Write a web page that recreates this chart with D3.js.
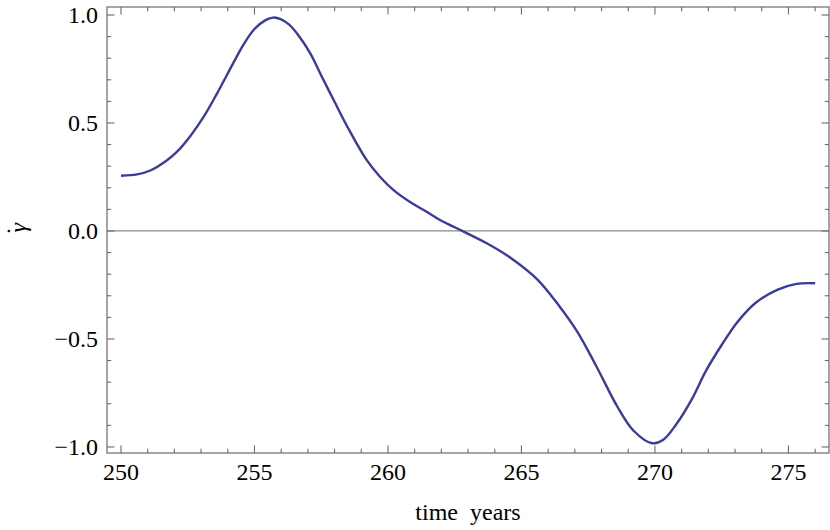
<!DOCTYPE html>
<html lang="en">
<head>
<meta charset="utf-8">
<script src="https://cdn.jsdelivr.net/npm/d3@7"></script>
<style>
  body { margin: 0; background: #fff; }
  text { font-family: "Liberation Serif", "Times New Roman", "DejaVu Serif", serif; }
</style>
</head>
<body>
<script>
var w = 830, h = 530;
var margin = {left: 107, right: 1, top: 7, bottom: 77};

// time (years) and gamma-dot
var years = [250.0, 250.6, 251.1, 251.7, 252.1, 252.6, 253.1, 253.6, 254.2, 254.6,
             255.0, 255.4, 255.7, 256.0, 256.3, 256.65, 257.1, 257.5, 258.0, 258.5,
             259.2, 259.7, 260.2, 260.8, 261.45, 261.95, 262.5, 263.7, 264.6, 265.6,
             266.4, 267.1, 267.8, 268.6, 269.2, 269.9, 270.3, 270.8, 271.4, 271.9,
             272.5, 273.1, 273.8, 274.6, 275.3, 276.0];
var gammaDot = [0.256, 0.262, 0.280, 0.325, 0.367, 0.440, 0.529, 0.637, 0.776, 0.865,
                0.935, 0.975, 0.988, 0.980, 0.955, 0.905, 0.820, 0.720, 0.598, 0.478,
                0.329, 0.251, 0.190, 0.136, 0.089, 0.051, 0.017, -0.057, -0.125, -0.225,
                -0.345, -0.468, -0.625, -0.815, -0.925, -0.983, -0.968, -0.895, -0.775, -0.650,
                -0.528, -0.420, -0.330, -0.272, -0.245, -0.242];

var xMajor = [250, 255, 260, 265, 270, 275];
var yMajor = [-1.0, -0.5, 0.0, 0.5, 1.0];

var x = d3.scaleLinear().domain([249.476, 276.52]).range([margin.left, w - margin.right]);
var y = d3.scaleLinear().domain([-1.028, 1.037]).range([h - margin.bottom, margin.top]);

var svg = d3.select("body").append("svg").attr("width", w).attr("height", h);

var x0 = margin.left, x1 = w - margin.right, y0 = h - margin.bottom, y1 = margin.top;
var frameColor = "#6a6a6a";
var serif = "'Liberation Serif', 'Times New Roman', serif";

// zero line
svg.append("line")
    .attr("x1", x0).attr("x2", x1)
    .attr("y1", y(0)).attr("y2", y(0))
    .attr("stroke", "#8a8a8a").attr("stroke-width", 1.2);

// curve
var line = d3.line()
    .x(function(d, i) { return x(years[i]); })
    .y(function(d) { return y(d); })
    .curve(d3.curveCatmullRom.alpha(0.5));

svg.append("path")
    .datum(gammaDot)
    .attr("d", line)
    .attr("fill", "none")
    .attr("stroke", "#3b3b9c")
    .attr("stroke-width", 2.4);

// frame
svg.append("rect")
    .attr("x", x0).attr("y", y1)
    .attr("width", x1 - x0).attr("height", y0 - y1)
    .attr("fill", "none").attr("stroke", frameColor).attr("stroke-width", 1.2);

// ticks on all four sides, pointing inward
var xMinor = d3.range(250, 277, 1).filter(function(t) { return t % 5 !== 0; });
var yMinor = d3.range(-10, 11, 1).map(function(k) { return k / 10; })
    .filter(function(v) { return Math.abs(v * 2 - Math.round(v * 2)) > 1e-6; });

var ticks = svg.append("g").attr("stroke", frameColor).attr("stroke-width", 1.1);

function xTicks(vals, len) {
    vals.forEach(function(t) {
        ticks.append("line").attr("x1", x(t)).attr("x2", x(t)).attr("y1", y0).attr("y2", y0 - len);
        ticks.append("line").attr("x1", x(t)).attr("x2", x(t)).attr("y1", y1).attr("y2", y1 + len);
    });
}
function yTicks(vals, len) {
    vals.forEach(function(v) {
        ticks.append("line").attr("y1", y(v)).attr("y2", y(v)).attr("x1", x0).attr("x2", x0 + len);
        ticks.append("line").attr("y1", y(v)).attr("y2", y(v)).attr("x1", x1).attr("x2", x1 - len);
    });
}
xTicks(xMajor, 7.5);
xTicks(xMinor, 4.2);
yTicks(yMajor, 7.5);
yTicks(yMinor, 4.2);

// tick labels
svg.selectAll(".xlab")
    .data(xMajor)
    .enter()
    .append("text")
    .attr("x", function(d) { return x(d); })
    .attr("y", y0 + 27)
    .attr("text-anchor", "middle")
    .attr("font-family", serif)
    .attr("font-size", "24px")
    .text(function(d) { return d; });

svg.selectAll(".ylab")
    .data(yMajor)
    .enter()
    .append("text")
    .attr("x", x0 - 9)
    .attr("y", function(d) { return y(d) + 8; })
    .attr("text-anchor", "end")
    .attr("font-family", serif)
    .attr("font-size", "24px")
    .text(function(d) { return (d < 0 ? "\u2212" : "") + Math.abs(d).toFixed(1); });

// axis titles
svg.append("text")
    .attr("x", 468).attr("y", 520)
    .attr("text-anchor", "middle")
    .attr("font-family", serif)
    .attr("font-size", "24px")
    .attr("xml:space", "preserve")
    .text("time  years");

// gamma with a dot above it, turned on its side
var yTitle = svg.append("text")
    .attr("transform", "translate(26,231) rotate(-90)")
    .attr("x", -4).attr("y", 0)
    .attr("font-family", serif)
    .attr("font-size", "24px");
yTitle.append("tspan")
    .attr("font-style", "italic")
    .text("\u03B3");
yTitle.append("tspan")
    .attr("dx", -12).attr("dy", -3)
    .text("\u02D9");
</script>
</body>
</html>
